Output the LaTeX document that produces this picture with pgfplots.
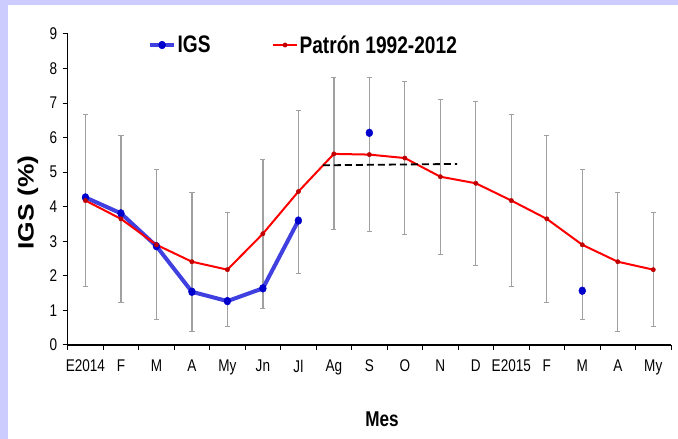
\documentclass[border=0pt]{standalone}
\usepackage{fontspec}
\setmainfont[FakeStretch=0.8]{Liberation Sans}
\newfontfamily\plainfont{Liberation Sans}
\usepackage{graphicx}
\usepackage{pgfplots}
\pgfplotsset{compat=1.18}
\definecolor{lav}{HTML}{CCCCFF}
\definecolor{igsline}{HTML}{4040E0}
\definecolor{igsmark}{HTML}{0000CC}
\definecolor{patline}{HTML}{FF0000}
\definecolor{patmark}{HTML}{C00000}
\definecolor{errgray}{HTML}{A0A0A0}
\begin{document}
\begin{tikzpicture}[x=1bp,y=1bp]
\useasboundingbox (-67.7,-94) rectangle (610.3,345);
\fill[lav] (-67.7,-94) rectangle (-59.7,345);
\fill[lav] (-67.7,340) rectangle (610.3,345);
\begin{axis}[
  at={(0,0)}, anchor=south west,
  scale only axis, width=603.3bp, height=311bp,
  xmin=-0.5, xmax=16.5, ymin=0, ymax=9,
  enlargelimits=false,
  axis x line=bottom, axis y line=left,
  axis line style={-, black, line width=1.2bp},
  xtick={0,...,16},
  xticklabels={E2014,F,M,A,My,Jn,Jl,Ag,S,O,N,D,E2015,F,M,A,My},
  major x tick style={draw=none},
  minor xtick={-0.5,0.5,...,16.5},
  minor tick length=5bp,
  minor x tick style={black, line width=1bp},
  ytick={0,...,9},
  major tick length=5bp,
  tick align=outside,
  y tick style={black, line width=1bp},
  /pgf/number format/assume math mode=true,
  tick label style={font=\fontsize{17}{20}\selectfont},
  xticklabel style={yshift=-6.5bp},
  yticklabel style={xshift=-2bp},
  unbounded coords=jump,
  clip=false,
  xlabel={Mes},
  xlabel style={at={(axis description cs:0.521,-0.238)}, anchor=center, font=\bfseries\fontsize{21.5}{24}\selectfont},
  ylabel={\scalebox{1}[0.84]{\plainfont\bfseries\fontsize{26.5}{30}\selectfont IGS (\%)}},
  ylabel style={at={(axis description cs:-0.0658,0.458)}, anchor=center},
  legend columns=2,
  legend style={draw=none, fill=none, at={(0.128,1.007)}, anchor=north west,
    font=\bfseries\fontsize{24}{28}\selectfont,
    /tikz/every even column/.append style={column sep=60bp},
    nodes={inner sep=1.5bp}},
  legend image code/.code={\draw[mark repeat=2,mark phase=2] plot coordinates {(0bp,0bp)(12bp,0bp)(24bp,0bp)};},
]
% error bars of the pattern
\addplot[draw=none, forget plot, mark=none,
  error bars/.cd, y dir=both, y explicit,
  error bar style={draw=errgray, line width=1.3bp},
  error mark=-,
  error mark options={draw=errgray, line width=1bp, mark size=2.6bp, rotate=90}]
coordinates {
(0,4.18) +- (0,2.49)
(1,3.65) +- (0,2.41)
(2,2.90) +- (0,2.17)
(3,2.41) +- (0,2.01)
(4,2.18) +- (0,1.64)
(5,3.22) +- (0,2.16)
(6,4.44) +- (0,2.36)
(7,5.53) +- (0,2.20)
(8,5.51) +- (0,2.24)
(9,5.41) +- (0,2.22)
(10,4.87) +- (0,2.24)
(11,4.68) +- (0,2.37)
(12,4.18) +- (0,2.49)
(13,3.65) +- (0,2.41)
(14,2.90) +- (0,2.17)
(15,2.41) +- (0,2.01)
(16,2.18) +- (0,1.64)
};
% IGS
\addplot[igsline, line width=4bp, mark=*, mark size=3.4bp,
  mark options={igsmark, fill=igsmark, line width=0.5bp, yscale=1.15}]
coordinates {
(0,4.27)(1,3.81)(2,2.86)(3,1.54)(4,1.27)(5,1.64)(6,3.60)
(7,nan)(8,6.14)(9,nan)(14,1.57)
};
\addlegendentry{IGS}
% Patron 1992-2012
\addplot[patline, line width=2bp, mark=*, mark size=2.2bp,
  mark options={patmark, fill=patmark, line width=0.4bp}]
coordinates {
(0,4.18)(1,3.65)(2,2.90)(3,2.41)(4,2.18)(5,3.22)(6,4.44)(7,5.53)(8,5.51)
(9,5.41)(10,4.87)(11,4.68)(12,4.18)(13,3.65)(14,2.90)(15,2.41)(16,2.18)
};
\addlegendentry{Patrón 1992-2012}
% dashed reference
\addplot[black, line width=1.8bp, dash pattern=on 7bp off 4bp, forget plot]
coordinates {(6.69,5.20)(10.47,5.24)};
\end{axis}
\end{tikzpicture}
\end{document}
